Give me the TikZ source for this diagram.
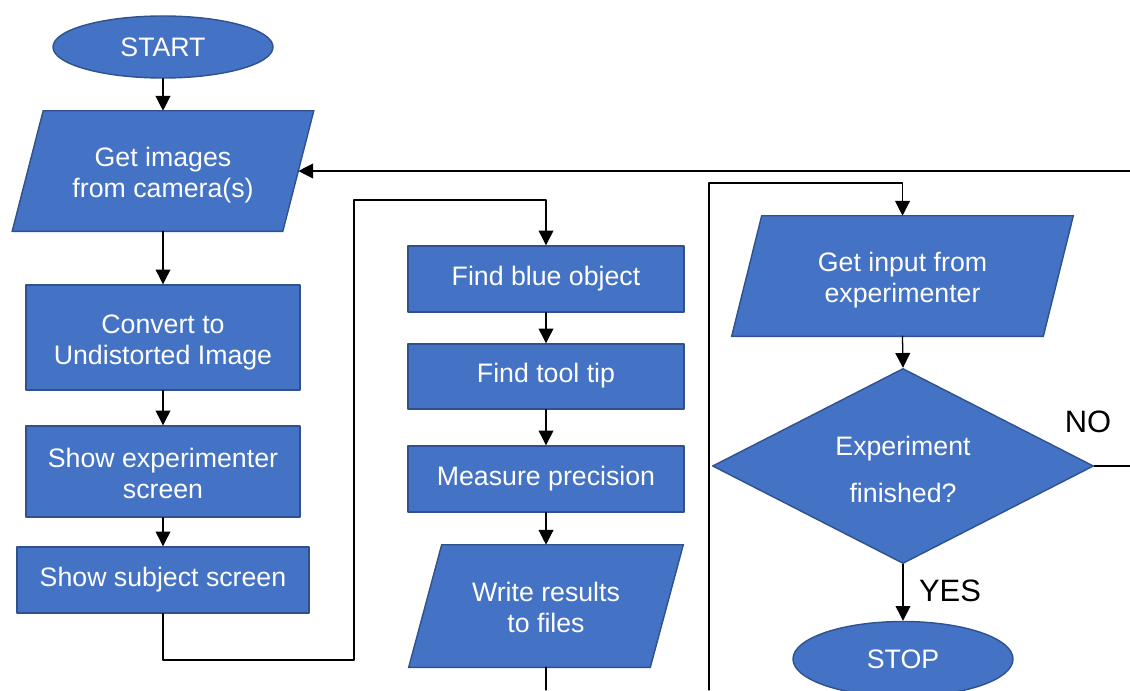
\documentclass[tikz,border=0pt]{standalone}
\usepackage{fontspec}
\setmainfont{Liberation Sans}
\usetikzlibrary{shapes.geometric,arrows.meta,backgrounds}
\definecolor{boxfill}{rgb}{0.267,0.447,0.769}
\definecolor{boxline}{rgb}{0.184,0.322,0.561}

\begin{document}
\begin{tikzpicture}[line cap=round,line join=round,>={Triangle[width=10.5pt,length=10.5pt]},x=0.025cm,y=-0.025cm,
  steptext/.style={text=white,inner sep=0pt,align=center,font=\fontsize{19}{22}\selectfont,execute at begin node=\strut,execute at end node=\strut},
  raised/.style={execute at begin node={\rule{0pt}{#1}}},
  stepfill/.style={steptext,draw=boxline,fill=boxfill,line width=1pt},
  procbox/.style={stepfill,rectangle},
  iobox/.style={steptext,rectangle,raised=44.5pt},
  ioshape/.style={draw=boxline,fill=boxfill,line width=1pt,line join=miter},
  endbox/.style={stepfill,ellipse,raised=19.5pt},
  testbox/.style={stepfill,diamond,aspect=1.95,raised=58pt},
  flow/.style={line width=0.9pt},
  answer/.style={inner sep=0pt,font=\fontsize{22}{26}\selectfont}]
%\draw [help lines] (0,0) grid[step=50] (1130,690);
\useasboundingbox (0,0) rectangle (1130,690);
\clip (0,0) rectangle (1130,690);
\node [endbox,minimum width=5.5cm,minimum height=1.55cm] (start) at (163,47) {START};
\node [iobox,minimum width=6.75cm,minimum height=3cm] (getimg) at (163,171) {Get images\\from camera(s)};
\node [procbox,raised=44.5pt,minimum width=6.85cm,minimum height=2.625cm] (convert) at (163,337.5) {Convert to\\Undistorted Image};
\node [procbox,raised=44.5pt,minimum width=6.85cm,minimum height=2.275cm] (showexp) at (163,471.5) {Show experimenter\\screen};
\node [procbox,minimum width=7.3cm,minimum height=1.65cm] (showsub) at (163,580) {Show subject screen};
\node [procbox,minimum width=6.9cm,minimum height=1.65cm] (findblue) at (546,279) {Find blue object};
\node [procbox,minimum width=6.9cm,minimum height=1.625cm] (findtip) at (546,376.5) {Find tool tip};
\node [procbox,minimum width=6.9cm,minimum height=1.65cm] (measure) at (546,479) {Measure precision};
\node [iobox,minimum width=6.025cm,minimum height=3.05cm] (write) at (546,606) {Write results\\to files};
\node [iobox,minimum width=7.775cm,minimum height=3cm] (getinput) at (902.5,276) {Get input from\\experimenter};
\node [testbox,minimum width=9.525cm,minimum height=4.875cm] (test) at (903,466) {Experiment\\[11pt]finished?};
\node [endbox,minimum width=5.5cm,minimum height=1.875cm] (stop) at (903,659) {STOP};
\node [answer] (nolab) at (1088,422) {NO};
\node [answer] (yeslab) at (950,591) {YES};
\begin{scope}[on background layer]
\draw [ioshape] ([xshift=0.3875cm]getimg.north west) -- ([xshift=0.3875cm]getimg.north east) -- ([xshift=-0.3875cm]getimg.south east) -- ([xshift=-0.3875cm]getimg.south west) -- cycle;
\draw [ioshape] ([xshift=0.4125cm]write.north west) -- ([xshift=0.4125cm]write.north east) -- ([xshift=-0.4125cm]write.south east) -- ([xshift=-0.4125cm]write.south west) -- cycle;
\draw [ioshape] ([xshift=0.375cm]getinput.north west) -- ([xshift=0.375cm]getinput.north east) -- ([xshift=-0.375cm]getinput.south east) -- ([xshift=-0.375cm]getinput.south west) -- cycle;
\end{scope}
\coordinate (lowjoin) at (354,660);
\coordinate (highjoin) at (354,200);
\coordinate (writeout) at (546,690);
\coordinate (inputout) at (709,690);
\coordinate (inputjoin) at (709,183);
\coordinate (noout) at (1130,466);
\coordinate (backin) at (1130,171);
\draw [flow,->] (start.south) -- (getimg.north);
\draw [flow,->] (getimg.south) -- (convert.north);
\draw [flow,->] (convert.south) -- (showexp.north);
\draw [flow,->] (showexp.south) -- (showsub.north);
\draw [flow,->] (showsub.south) |- (lowjoin) -- (highjoin) -| (findblue.north);
\draw [flow,->] (findblue.south) -- (findtip.north);
\draw [flow,->] (findtip.south) -- (measure.north);
\draw [flow,->] (measure.south) -- (write.north);
\draw [flow] (write.south) -- (writeout);
\draw [flow,->] (inputout) -- (inputjoin) -| (getinput.north);
\draw [flow,->] (getinput.south) -- (test.north);
\draw [flow,->] (test.south) -- (stop.north);
\draw [flow] (test.east) -- (noout);
\draw [flow,->] (backin) -- (getimg.east);
\end{tikzpicture}
\end{document}
